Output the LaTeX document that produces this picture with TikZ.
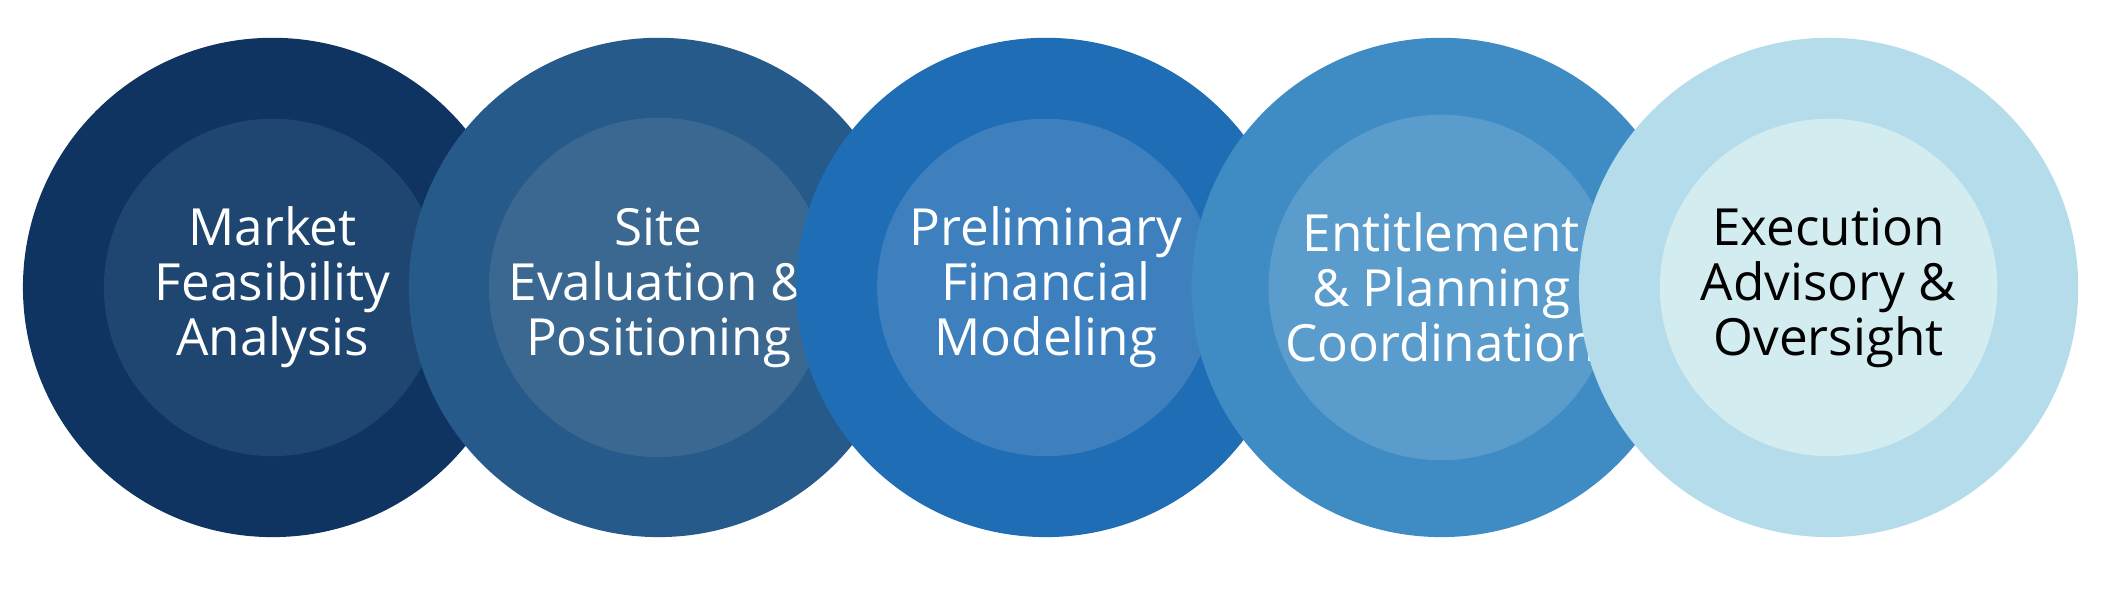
\documentclass[tikz,border=0pt]{standalone}
\usepackage{fontspec}
\setmainfont{Open Sans}
\usetikzlibrary{positioning}
\definecolor{outerA}{HTML}{0F3461}\definecolor{innerA}{HTML}{1F4671}
\definecolor{outerB}{HTML}{255A8A}\definecolor{innerB}{HTML}{3A6891}
\definecolor{outerC}{HTML}{1F6DB5}\definecolor{innerC}{HTML}{3E80BE}
\definecolor{outerD}{HTML}{3F8CC4}\definecolor{innerD}{HTML}{5A9CCB}
\definecolor{outerE}{HTML}{B5DCEB}\definecolor{innerE}{HTML}{D3ECF0}
\tikzset{
  ring/.style={circle, minimum size=3.7cm, inner sep=0pt},
  core/.style={circle, minimum size=2.5cm, inner sep=0pt, align=center,
    font=\fontsize{10.8}{11.6}\selectfont}
}
\begin{document}
\begin{tikzpicture}
\useasboundingbox[fill=white] (0,0) rectangle (15.68,4.5);
% Stages, drawn left to right so each one overlaps the previous
\foreach \i/\x/\o/\c/\t/\txt in {
  1/2.02/outerA/innerA/white/{Market\\Feasibility\\Analysis},
  2/4.88/outerB/innerB/white/{Site\\Evaluation \&\\Positioning},
  3/7.75/outerC/innerC/white/{Preliminary\\Financial\\Modeling},
  4/10.68/outerD/innerD/white/{Entitlement\\\& Planning\\Coordination},
  5/13.55/outerE/innerE/black/{Execution\\Advisory \&\\Oversight}} {
  \node[ring, fill=\o] (ring\i) at (\x, 2.37) {};
  \node[core, fill=\c, text=\t] (core\i) at (ring\i.center) {\txt};
}
\end{tikzpicture}
\end{document}
